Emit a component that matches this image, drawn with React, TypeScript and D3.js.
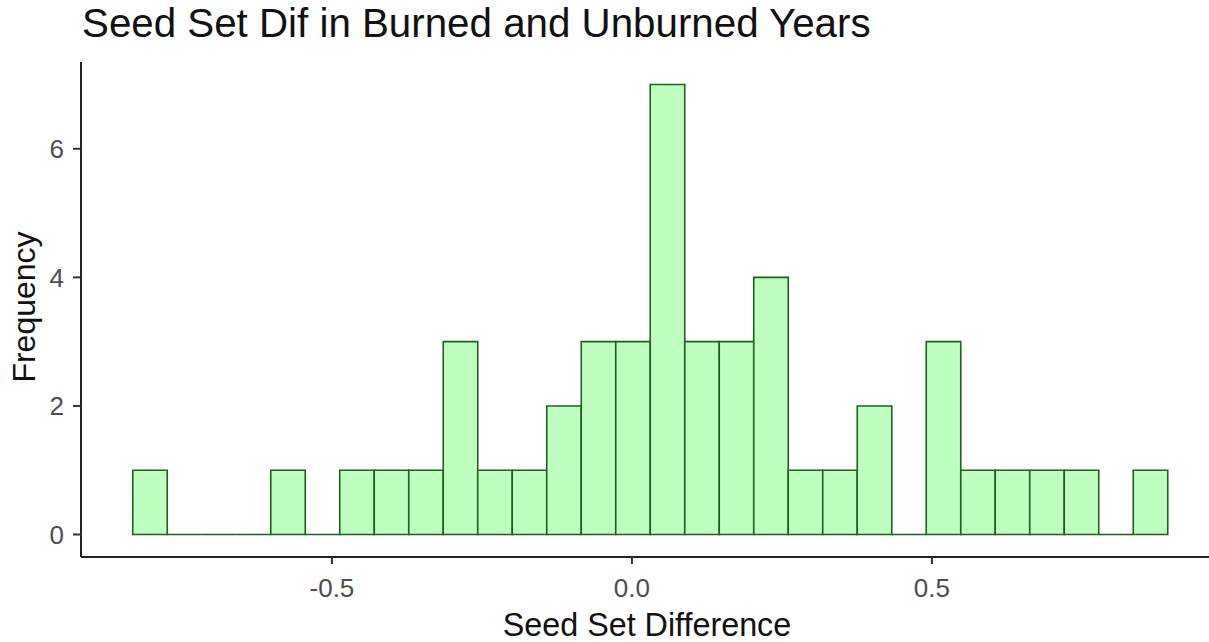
import React from "react";
import * as d3 from "d3";

// Histogram data (30 bins)
const binStart = -0.832;
const binWidth = 0.0575;
const counts = [1, 0, 0, 0, 1, 0, 1, 1, 1, 3, 1, 1, 2, 3, 3, 7, 3, 3, 4, 1, 1, 2, 0, 3, 1, 1, 1, 1, 0, 1];
const xTicks = [-0.5, 0.0, 0.5];
const yTicks = [0, 2, 4, 6];
const title = "Seed Set Dif in Burned and Unburned Years";
const xTitle = "Seed Set Difference";
const yTitle = "Frequency";

const W = 1209;
const H = 642;

export default function App() {
  const bins = counts.map((c, i) => ({
    x0: binStart + i * binWidth,
    x1: binStart + (i + 1) * binWidth,
    count: c,
  }));
  const xMin = binStart;
  const xMax = binStart + counts.length * binWidth;
  const xPad = (xMax - xMin) * 0.05;
  const yMax = d3.max(counts) as number;
  const yPad = yMax * 0.05;

  const left = 81;
  const bottom = 557;
  const top = 62;
  const x = d3.scaleLinear().domain([xMin - xPad, xMax + xPad]).range([left, left + (xMax - xMin + 2 * xPad) * 600]);
  const y = d3.scaleLinear().domain([-yPad, yMax + yPad]).range([bottom, top]);

  const font = "'Liberation Sans', Arial, sans-serif";

  const barPath = (b: { x0: number; x1: number; count: number }) => {
    const p = d3.path();
    p.moveTo(x(b.x0), y(0));
    p.lineTo(x(b.x0), y(b.count));
    p.lineTo(x(b.x1), y(b.count));
    p.lineTo(x(b.x1), y(0));
    p.closePath();
    return p.toString();
  };

  return (
    <svg width={W} height={H} style={{ position: "absolute", left: 0, top: 0, background: "#fff" }} fontFamily={font}>
      <rect x={0} y={0} width={W} height={H} fill="#fff" />
      {bins.map((b, i) => (
        <path
          key={i}
          d={barPath(b)}
          fill="#bfffbf"
          stroke="#1f5f1f"
          strokeWidth={1.6}
        />
      ))}
      {/* axes */}
      <line x1={left} x2={W} y1={bottom} y2={bottom} stroke="#222" strokeWidth={2} />
      <line x1={left} x2={left} y1={top} y2={bottom} stroke="#222" strokeWidth={2} />
      {xTicks.map((t) => (
        <g key={t}>
          <line x1={x(t)} x2={x(t)} y1={bottom} y2={bottom + 7} stroke="#333" strokeWidth={2} />
          <text x={x(t)} y={597} textAnchor="middle" fontSize={26} fill="#4d4d4d">
            {d3.format(".1f")(t).replace("−", "-")}
          </text>
        </g>
      ))}
      {yTicks.map((t) => (
        <g key={t}>
          <line x1={left - 8} x2={left} y1={y(t)} y2={y(t)} stroke="#333" strokeWidth={2} />
          <text x={64} y={y(t)} dy="0.36em" textAnchor="end" fontSize={26} fill="#4d4d4d">
            {t}
          </text>
        </g>
      ))}
      <text x={82} y={37} fontSize={40.3} fill="#111">
        {title}
      </text>
      <text x={647} y={636} textAnchor="middle" fontSize={32.3} fill="#111">
        {xTitle}
      </text>
      <text transform={`translate(35, 307) rotate(-90)`} textAnchor="middle" fontSize={32} fill="#111">
        {yTitle}
      </text>
    </svg>
  );
}
